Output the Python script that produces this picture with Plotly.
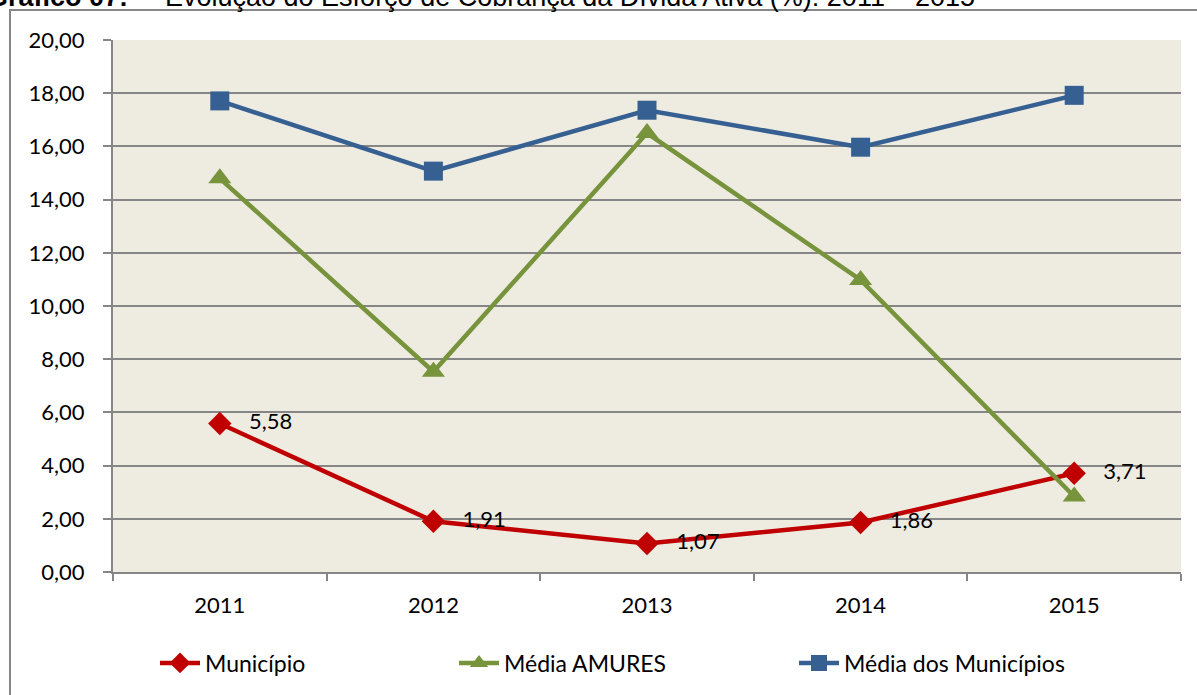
import plotly.graph_objects as go

anos = ["2011", "2012", "2013", "2014", "2015"]
municipio = [5.58, 1.91, 1.07, 1.86, 3.71]
media_amures = [14.80, 7.53, 16.50, 10.98, 2.84]
media_municipios = [17.71, 15.07, 17.36, 15.97, 17.92]
rotulos_municipio = ["5,58", "1,91", "1,07", "1,86", "3,71"]
y_ticks = [0, 2, 4, 6, 8, 10, 12, 14, 16, 18, 20]

FONT = "Lato"
W, H = 1197, 695
ML, MR, MT, MB = 113, 16, 40, 122
PW = W - ML - MR
PH = H - MT - MB

def px_x(p):
    return (p - ML) / PW

def px_y(p):
    return 1 - (p - MT) / PH

fig = go.Figure()
fig.add_trace(go.Scatter(
    x=anos, y=municipio, name="Município", mode="lines+markers+text",
    line=dict(color="#C00000", width=4.5),
    marker=dict(symbol="diamond", size=18, color="#C00000"),
    text=["   " + t for t in rotulos_municipio], textposition="middle right",
    textfont=dict(family=FONT, size=22, color="#000000"),
    legend="legend",
))
fig.add_trace(go.Scatter(
    x=anos, y=media_amures, name="Média AMURES", mode="lines+markers",
    line=dict(color="#77933C", width=4.5),
    marker=dict(symbol="triangle-up", size=20, color="#77933C"),
    legend="legend2",
))
fig.add_trace(go.Scatter(
    x=anos, y=media_municipios, name="Média dos Municípios", mode="lines+markers",
    line=dict(color="#376092", width=4.5),
    marker=dict(symbol="square", size=19, color="#376092"),
    legend="legend3",
))

leg_common = dict(
    orientation="h", yanchor="middle", xanchor="left", y=px_y(663),
    font=dict(family=FONT, size=23, color="#000000"),
    bgcolor="rgba(0,0,0,0)", itemwidth=40,
)

fig.update_layout(
    width=W, height=H,
    margin=dict(l=ML, r=MR, t=MT, b=MB),
    paper_bgcolor="#FFFFFF",
    plot_bgcolor="#EEECE1",
    separators=",.",
    font=dict(family=FONT, size=22, color="#000000"),
    showlegend=True,
    legend=dict(x=px_x(155), **leg_common),
    legend2=dict(x=px_x(454), **leg_common),
    legend3=dict(x=px_x(794), **leg_common),
    xaxis=dict(
        type="category", range=[-0.5, 4.5],
        showgrid=False, showline=True, linecolor="#868686", linewidth=2,
        ticks="outside", tickson="boundaries", ticklen=7, tickcolor="#868686", tickwidth=2,
        tickfont=dict(family=FONT, size=22), ticklabelstandoff=13,
        zeroline=False, fixedrange=True,
    ),
    yaxis=dict(
        range=[0, 20], tickvals=y_ticks, tickformat=".2f",
        showgrid=True, gridcolor="#868686", gridwidth=2,
        showline=True, linecolor="#868686", linewidth=2,
        ticks="outside", ticklen=8, tickcolor="#868686", tickwidth=2,
        tickfont=dict(family=FONT, size=22), ticklabelstandoff=14,
        zeroline=False, fixedrange=True,
    ),
    shapes=[dict(
        type="rect", xref="paper", yref="paper",
        x0=px_x(10), x1=px_x(W + 20), y0=px_y(H + 20), y1=px_y(10),
        line=dict(color="#878787", width=2), fillcolor="rgba(0,0,0,0)", layer="below",
    )],
    annotations=[
        dict(
            xref="paper", yref="paper", x=px_x(130), y=px_y(14), xanchor="right", yanchor="bottom",
            text="<b>Gráfico 07:</b>", showarrow=False,
            font=dict(family="Liberation Sans", size=27, color="#000000"),
        ),
        dict(
            xref="paper", yref="paper", x=px_x(163), y=px_y(14), xanchor="left", yanchor="bottom",
            text="Evolução do Esforço de Cobrança da Dívida Ativa (%): 2011 – 2015",
            showarrow=False, font=dict(family="Liberation Sans", size=27, color="#000000"),
        ),
    ],
)

fig.write_html("out.html", config={"displayModeBar": False},
               post_script="document.body.style.margin='0';")
